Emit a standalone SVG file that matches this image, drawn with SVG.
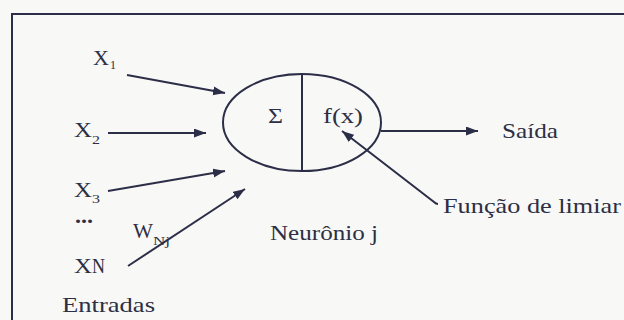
<svg xmlns="http://www.w3.org/2000/svg" width="624" height="320" viewBox="0 0 624 320" font-family="Liberation Serif, serif">
<style>
  .ln { stroke: #2c2e48; stroke-width: 2; fill: none; }
  .t { font-family: 'Liberation Serif', serif; font-size: 21px; fill: #2d2f45; }
  .s { font-family: 'Liberation Serif', serif; font-size: 13px; fill: #2d2f45; }
</style>
<defs>
  <marker id="ah" markerUnits="userSpaceOnUse" markerWidth="13" markerHeight="10" refX="12" refY="4.5" orient="auto">
    <path d="M0,0 L12,4.5 L0,9 z" fill="#2c2e48"/>
  </marker>
</defs>
<rect x="0" y="0" width="624" height="320" fill="#f8f8f6"/>
<rect x="12" y="14" width="700" height="400" class="ln" stroke-width="2.5"/>

<g id="connectors">
  <line class="ln" x1="127" y1="75" x2="225" y2="93" marker-end="url(#ah)"/>
  <line class="ln" x1="108" y1="133" x2="206" y2="133" marker-end="url(#ah)"/>
  <line class="ln" x1="108" y1="191" x2="225" y2="171" marker-end="url(#ah)"/>
  <line class="ln" x1="128" y1="266" x2="245" y2="189" marker-end="url(#ah)"/>
  <line class="ln" x1="381" y1="131" x2="478" y2="131" marker-end="url(#ah)"/>
  <path class="ln" d="M438,204 Q436,204 434,202 L342,131" marker-end="url(#ah)"/>
</g>

<g id="x1">
  <text class="t" x="93" y="65" textLength="16" lengthAdjust="spacingAndGlyphs">X</text>
  <text class="s" x="110" y="69" textLength="6" lengthAdjust="spacingAndGlyphs">1</text>
</g>
<g id="x2">
  <text class="t" x="74" y="137" textLength="18" lengthAdjust="spacingAndGlyphs">X</text>
  <text class="s" x="92" y="144" textLength="8" lengthAdjust="spacingAndGlyphs">2</text>
</g>
<g id="x3">
  <text class="t" x="74" y="197" textLength="18" lengthAdjust="spacingAndGlyphs">X</text>
  <text class="s" x="92" y="203" textLength="8" lengthAdjust="spacingAndGlyphs">3</text>
</g>
<g id="dots">
  <text class="t" x="75" y="223" font-weight="bold" textLength="18" lengthAdjust="spacingAndGlyphs">...</text>
</g>
<g id="xn">
  <text class="t" x="74" y="273" textLength="18" lengthAdjust="spacingAndGlyphs">X</text>
  <text class="t" x="92" y="273" font-size="15" textLength="13" lengthAdjust="spacingAndGlyphs">N</text>
</g>
<g id="weight">
  <text class="t" x="133" y="238" textLength="20" lengthAdjust="spacingAndGlyphs">W</text>
  <text class="s" x="153" y="245" textLength="17" lengthAdjust="spacingAndGlyphs">Nj</text>
</g>
<g id="entradas">
  <text class="t" x="62" y="312" textLength="93" lengthAdjust="spacingAndGlyphs">Entradas</text>
</g>

<g id="neuron">
  <ellipse class="ln" cx="302" cy="122.5" rx="79" ry="48.5"/>
  <line class="ln" x1="302" y1="74" x2="302" y2="171"/>
  <text class="t" x="268" y="123" textLength="15" lengthAdjust="spacingAndGlyphs">Σ</text>
  <text class="t" x="323" y="123" textLength="40" lengthAdjust="spacingAndGlyphs">f(x)</text>
  <text class="t" x="270" y="240" textLength="108" lengthAdjust="spacingAndGlyphs">Neurônio j</text>
</g>

<g id="saida">
  <text class="t" x="502" y="138" textLength="56" lengthAdjust="spacingAndGlyphs">Saída</text>
</g>
<g id="funcao">
  <text class="t" x="443" y="213" textLength="178" lengthAdjust="spacingAndGlyphs">Função de limiar</text>
</g>
</svg>
